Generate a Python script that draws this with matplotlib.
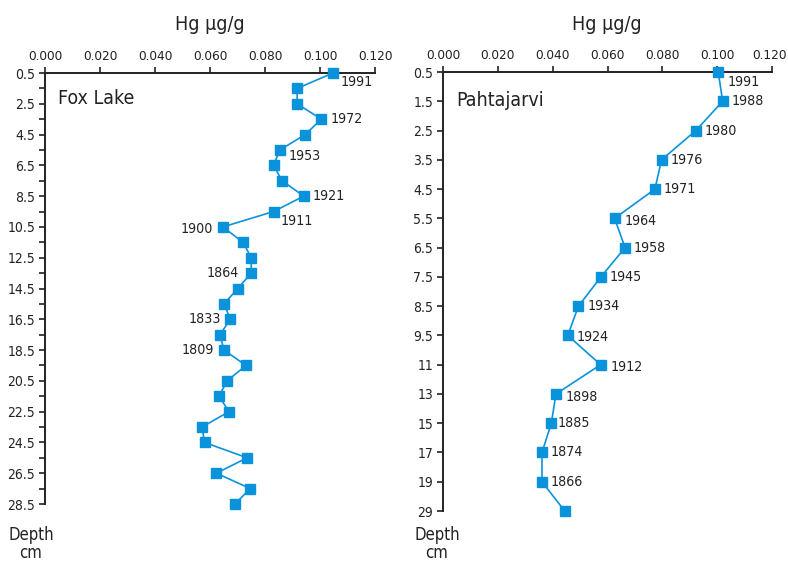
import matplotlib

matplotlib.use("Agg")
import matplotlib.pyplot as plt  # noqa: E402
from matplotlib.transforms import ScaledTranslation  # noqa: E402

FONT = ["DejaVu Sans"]
STRETCH = "condensed"
BLUE = "#0a93db"

# Fox Lake core: 1 cm slices, Hg in ug/g, dated slices carry a year
fox_depth = [f"{d + 0.5:.1f}" for d in range(29)]
fox_hg = [0.1047, 0.0917, 0.0917, 0.1005, 0.0946, 0.0854, 0.0831, 0.0862,
          0.0941, 0.0831, 0.0647, 0.0720, 0.0750, 0.0750, 0.0701, 0.0651,
          0.0674, 0.0636, 0.0651, 0.0731, 0.0662, 0.0633, 0.0669, 0.0571,
          0.0580, 0.0735, 0.0623, 0.0747, 0.0690]
fox_years = {0: "1991", 3: "1972", 5: "1953", 8: "1921", 9: "1911",
             10: "1900", 13: "1864", 16: "1833", 18: "1809"}

# Pahtajarvi core
pah_depth = ["0.5", "1.5", "2.5", "3.5", "4.5", "5.5", "6.5", "7.5", "8.5",
             "9.5", "11", "13", "15", "17", "19", "29"]
pah_hg = [0.1004, 0.1020, 0.0922, 0.0797, 0.0773, 0.0626, 0.0664, 0.0576,
          0.0494, 0.0455, 0.0575, 0.0412, 0.0395, 0.0361, 0.0361, 0.0444]
pah_years = {0: "1991", 1: "1988", 2: "1980", 3: "1976", 4: "1971",
             5: "1964", 6: "1958", 7: "1945", 8: "1934", 9: "1924",
             10: "1912", 11: "1898", 12: "1885", 13: "1874", 14: "1866"}

xticks = [0.0, 0.02, 0.04, 0.06, 0.08, 0.10, 0.12]

# label offsets in pixels (dx, dy down); default is just right of the marker
fox_offsets = {0: (8, 9), 5: (9, 6), 9: (7, 9), 10: (-10, 2), 13: (-12, 0),
               16: (-9, 0), 18: (-10, 0)}
pah_offsets = {0: (9, 10), 5: (10, 3), 9: (9, 2), 10: (10, 2), 11: (10, 3),
               12: (6, 0)}

TXT = dict(family=FONT, stretch=STRETCH, color="#222222")

fig = plt.figure(figsize=(7.88, 5.62), dpi=100)
ax_fox = fig.add_axes([0.0571, 0.1032, 0.4188, 0.7669])
ax_pah = fig.add_axes([0.5622, 0.0907, 0.4175, 0.7811])


def core_panel(ax, depth, hg, years, offsets, name, name_y, label_every):
    pos = list(range(len(depth)))
    ax.plot(hg, pos, color=BLUE, lw=1.2, marker="s", ms=7.5, mec=BLUE,
            mfc=BLUE, clip_on=False, zorder=3)
    ax.set_xlim(0, 0.12)
    ax.set_ylim(len(depth) - 1, 0)
    ax.xaxis.set_ticks_position("top")
    ax.set_xticks(xticks)
    ax.set_xticklabels([f"{v:.3f}" for v in xticks], fontsize=9.7, **TXT)
    ax.set_yticks(pos)
    ax.set_yticklabels([d if i % label_every == 0 else "" for i, d in enumerate(depth)],
                       fontsize=10, **TXT)
    ax.tick_params(direction="out", length=4, width=1.2, color="#222222", pad=3)
    for side in ("right", "bottom"):
        ax.spines[side].set_visible(False)
    for side in ("top", "left"):
        ax.spines[side].set_linewidth(1.4)
        ax.spines[side].set_color("#222222")
    for i, yr in years.items():
        dx, dy = offsets.get(i, (9, 0))
        ax.annotate(yr, (hg[i], i), xytext=(dx, -dy), textcoords="offset pixels",
                    ha="left" if dx > 0 else "right", va="center",
                    fontsize=10.2, **TXT)
    ax.text(0.04, name_y, name, transform=ax.transAxes, fontsize=14,
            va="center", **TXT)


core_panel(ax_fox, fox_depth, fox_hg, fox_years, fox_offsets, "Fox Lake", 0.942, 2)
core_panel(ax_pah, pah_depth, pah_hg, pah_years, pah_offsets, "Pahtajarvi", 0.936, 1)

# keep the last Hg label inside the figure edge
last = ax_pah.get_xticklabels()[-1]
last.set_transform(last.get_transform() + ScaledTranslation(-3 / 100, 0, fig.dpi_scale_trans))

for cx in (210, 607):
    fig.text(cx / 788, 1 - 24 / 562, "Hg \u00b5g/g", ha="center", va="center",
             fontsize=14, **TXT)
for cx in (31, 437):
    fig.text(cx / 788, 1 - 544 / 562, "Depth\ncm", ha="center", va="center",
             fontsize=12, linespacing=1.0, **TXT)

fig.savefig("out.png", dpi=100)
